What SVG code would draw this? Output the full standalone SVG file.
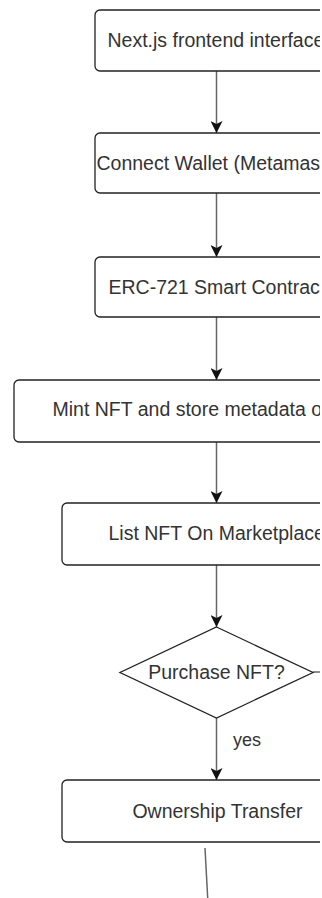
<svg xmlns="http://www.w3.org/2000/svg" width="322" height="898" viewBox="0 0 322 898">
<style>
.box{fill:#ffffff;stroke:#222222;stroke-width:1.3}
.lbl{font-family:"Liberation Sans",Arial,sans-serif;font-size:19.5px;fill:#333333}
.edge{fill:none;stroke:#666666;stroke-width:1.5}
.small{font-family:"Liberation Sans",Arial,sans-serif;font-size:18px;fill:#333333}
</style>
<defs>
<clipPath id="page"><rect x="0" y="0" width="320" height="898"/></clipPath>
<marker id="arr" viewBox="0 0 12 12" refX="12" refY="6" markerWidth="12" markerHeight="12" markerUnits="userSpaceOnUse" orient="auto">
<path d="M0,0 L12,6 L0,12 L3,6 Z" fill="#111111"/>
</marker>
</defs>
<rect x="0" y="0" width="322" height="898" fill="#ffffff"/>
<g clip-path="url(#page)">
<g id="connectors">
<line class="edge" x1="216.5" y1="71" x2="216.5" y2="133" marker-end="url(#arr)"/>
<line class="edge" x1="216.5" y1="193" x2="216.5" y2="257" marker-end="url(#arr)"/>
<line class="edge" x1="216.5" y1="317" x2="216.5" y2="380" marker-end="url(#arr)"/>
<line class="edge" x1="216.5" y1="442" x2="216.5" y2="503" marker-end="url(#arr)"/>
<line class="edge" x1="216.5" y1="565" x2="216.5" y2="627" marker-end="url(#arr)"/>
<line class="edge" x1="216.5" y1="718" x2="216.5" y2="780" marker-end="url(#arr)"/>
<line class="edge" x1="313" y1="672" x2="340" y2="672"/>
<line class="edge" x1="205" y1="848" x2="207.8" y2="900"/>
<text class="small" x="233" y="746">yes</text>
</g>
<g id="n1">
<rect class="box" x="95" y="10" width="243" height="61" rx="5"/>
<text class="lbl" x="107.5" y="47">Next.js frontend interface</text>
</g>
<g id="n2">
<rect class="box" x="95" y="133" width="243" height="60" rx="5"/>
<text class="lbl" x="96.5" y="169.5">Connect Wallet (Metamas</text>
</g>
<g id="n3">
<rect class="box" x="95" y="257" width="243" height="60" rx="5"/>
<text class="lbl" x="108.5" y="293.5">ERC-721 Smart Contrac</text>
</g>
<g id="n4">
<rect class="box" x="14" y="380" width="405" height="62" rx="5"/>
<text class="lbl" x="52.5" y="416">Mint NFT and store metadata o</text>
</g>
<g id="n5">
<rect class="box" x="62" y="503" width="309" height="62" rx="5"/>
<text class="lbl" x="108.5" y="540">List NFT On Marketplace</text>
</g>
<g id="n6">
<path class="box" d="M216.5,627 L313,672.5 L216.5,718 L120,672.5 Z"/>
<text class="lbl" x="216.5" y="678.5" text-anchor="middle">Purchase NFT?</text>
</g>
<g id="n7">
<rect class="box" x="62" y="780" width="309" height="62" rx="5"/>
<text class="lbl" x="217.5" y="818" text-anchor="middle">Ownership Transfer</text>
</g>
</g>
</svg>
